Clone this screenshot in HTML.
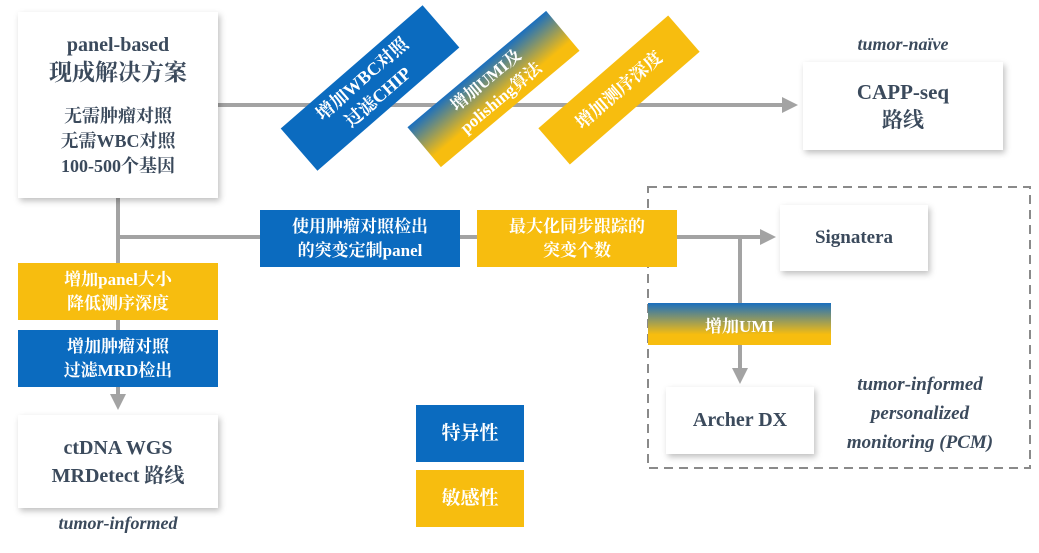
<!DOCTYPE html>
<html><head><meta charset="utf-8"><style>
body{margin:0;width:1039px;height:553px;background:#fff;position:relative;overflow:hidden;font-family:"Liberation Serif","Noto Serif CJK SC",serif;font-weight:bold}
.b{position:absolute;display:flex;align-items:center;justify-content:center;text-align:center;box-sizing:border-box}
.w{background:#fff;color:#3b4a5c;box-shadow:2px 3px 6px rgba(0,0,0,.25)}
.bl{background:#0b6bbf;color:#fff;font-size:17px;line-height:24px}
.ye{background:#f7bd0f;color:#fff;font-size:17px;line-height:24px}
.gr{background:linear-gradient(#1a6fbf,#f7bd0f 75%);color:#fff}
.it{position:absolute;font-style:italic;color:#3b4a5c;font-size:19px;text-align:center}
</style></head><body>
<svg style="position:absolute;left:0;top:0" width="1039" height="553">
<defs><marker id="a" markerWidth="4" markerHeight="4" refX="2" refY="2" orient="auto"><path d="M0,0L4,2L0,4z" fill="#a3a3a3"/></marker></defs>
<g stroke="#a3a3a3" stroke-width="4" fill="none">
<line x1="218" y1="105" x2="790" y2="105" marker-end="url(#a)"/>
<line x1="118" y1="198" x2="118" y2="402" marker-end="url(#a)"/>
<line x1="118" y1="237" x2="768" y2="237" marker-end="url(#a)"/>
<line x1="740" y1="237" x2="740" y2="376" marker-end="url(#a)"/>
</g>
<rect x="648" y="187" width="382" height="281" fill="none" stroke="#8a8a8a" stroke-width="2" stroke-dasharray="9,6"/>
</svg>
<div class="b w" style="left:18px;top:12px;width:200px;height:186px;flex-direction:column;font-size:20px;line-height:27px"><div>panel-based<br><span style="font-size:23px">现成解决方案</span></div><div style="margin-top:16px;font-size:18px;line-height:25px">无需肿瘤对照<br>无需WBC对照<br>100-500个基因</div></div>
<div class="b w" style="left:803px;top:62px;width:200px;height:88px;font-size:21px;line-height:28px">CAPP-seq<br>路线</div>
<div class="it" style="left:803px;top:34px;width:200px;font-size:18px">tumor-naïve</div>
<div class="b w" style="left:780px;top:205px;width:148px;height:66px;font-size:19px">Signatera</div>
<div class="b w" style="left:666px;top:387px;width:148px;height:67px;font-size:20px">Archer DX</div>
<div class="b w" style="left:18px;top:415px;width:200px;height:93px;font-size:20px;line-height:28px">ctDNA WGS<br>MRDetect 路线</div>
<div class="it" style="left:18px;top:513px;width:200px;font-size:18px">tumor-informed</div>
<div class="it" style="left:820px;top:370px;width:200px;line-height:29px">tumor-informed<br>personalized<br>monitoring (PCM)</div>
<div class="b bl" style="left:260px;top:210px;width:200px;height:57px">使用肿瘤对照检出<br>的突变定制panel</div>
<div class="b ye" style="left:477px;top:210px;width:200px;height:57px">最大化同步跟踪的<br>突变个数</div>
<div class="b ye" style="left:18px;top:263px;width:200px;height:57px">增加panel大小<br>降低测序深度</div>
<div class="b bl" style="left:18px;top:330px;width:200px;height:57px">增加肿瘤对照<br>过滤MRD检出</div>
<div class="b gr" style="left:648px;top:303px;width:183px;height:42px;font-size:17px">增加UMI</div>
<div class="b bl" style="left:416px;top:405px;width:108px;height:57px;font-size:19px">特异性</div>
<div class="b ye" style="left:416px;top:470px;width:108px;height:57px;font-size:19px">敏感性</div>
<div class="b bl" style="left:276px;top:60px;width:188px;height:56px;font-size:18px;line-height:24px;transform:rotate(-41deg)">增加WBC对照<br>过滤CHIP</div>
<div class="b gr" style="left:403px;top:63px;width:181px;height:52px;font-size:17px;line-height:23px;transform:rotate(-40deg)">增加UMI及<br>polishing算法</div>
<div class="b ye" style="left:533px;top:66px;width:172px;height:48px;font-size:18px;transform:rotate(-41deg)">增加测序深度</div>
</body></html>
